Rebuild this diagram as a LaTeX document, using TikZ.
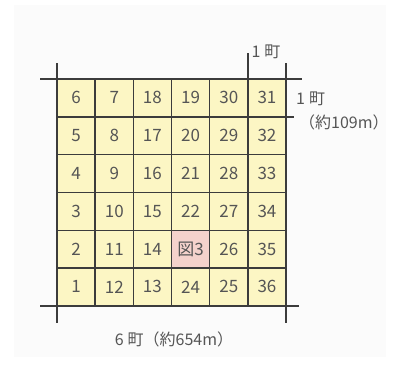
\documentclass[tikz,border=0pt]{standalone}
\usepackage{fontspec}
\setmainfont{Noto Sans CJK JP}
\definecolor{bgc}{HTML}{FBFBFB}
\definecolor{cellc}{HTML}{FCF6C4}
\definecolor{pinkc}{HTML}{F4D2CC}
\definecolor{linec}{HTML}{3C3C3C}
\definecolor{txtc}{HTML}{555555}
\def\xmark{X}
\tikzset{
  cellbox/.style={draw=linec, line width=1.4pt, fill=cellc, minimum width=38.17pt, minimum height=37.8pt, inner sep=0pt, anchor=center, text=txtc, font=\fontsize{17}{17}\selectfont},
  pinkbox/.style={cellbox, fill=pinkc},
  gline/.style={draw=linec, line width=1.4pt},
  lbl/.style={text=txtc, font=\fontsize{16}{16}\selectfont, inner sep=0pt}
}
\begin{document}
\begin{tikzpicture}[x=1pt,y=-1pt]
\useasboundingbox (0,0) rectangle (395,365);
\fill[bgc] (14,5) rectangle (386,357);
\foreach \c/\labs in {0/{6,5,4,3,2,1},1/{7,8,9,10,11,12},2/{18,17,16,15,14,13},3/{19,20,21,22,X,24},4/{30,29,28,27,26,25},5/{31,32,33,34,35,36}}{
  \foreach \t [count=\r from 0] in \labs {
    \ifx\t\xmark
      \node[pinkbox] (c\c-\r) at ({57+38.17*\c+19.08},{79+37.8*\r+18.9}) {図3};
    \else
      \node[cellbox] (c\c-\r) at ({57+38.17*\c+19.08},{79+37.8*\r+18.9}) {\t};
    \fi
  }
}
% extension lines
\coordinate (tl) at (40,79); \coordinate (tr) at (302,79);
\coordinate (bl) at (40,306); \coordinate (br) at (299,306);
\coordinate (lt) at (57,63); \coordinate (lb) at (57,323);
\coordinate (rt) at (286,63); \coordinate (rb) at (286,323);
\coordinate (mt) at (248,53); \coordinate (mb) at (248,79);
\coordinate (hs) at (286,117); \coordinate (he) at (294,117);
\draw[gline] (tl) -- (tr);
\draw[gline] (bl) -- (br);
\draw[gline] (lt) -- (lb);
\draw[gline] (rt) -- (rb);
\draw[gline] (mt) -- (mb);
\draw[gline] (hs) -- (he);
\node[lbl] (top) at (266,52) {1\hspace{4pt}町};
\node[lbl, anchor=west] (r1) at (296,99) {1\hspace{4pt}町};
\node[lbl, anchor=west] (r2) at (299,122) {（約109m）};
\node[lbl] (bot) at (174,339) {6\hspace{4pt}町（約654m）};
\end{tikzpicture}
\end{document}
